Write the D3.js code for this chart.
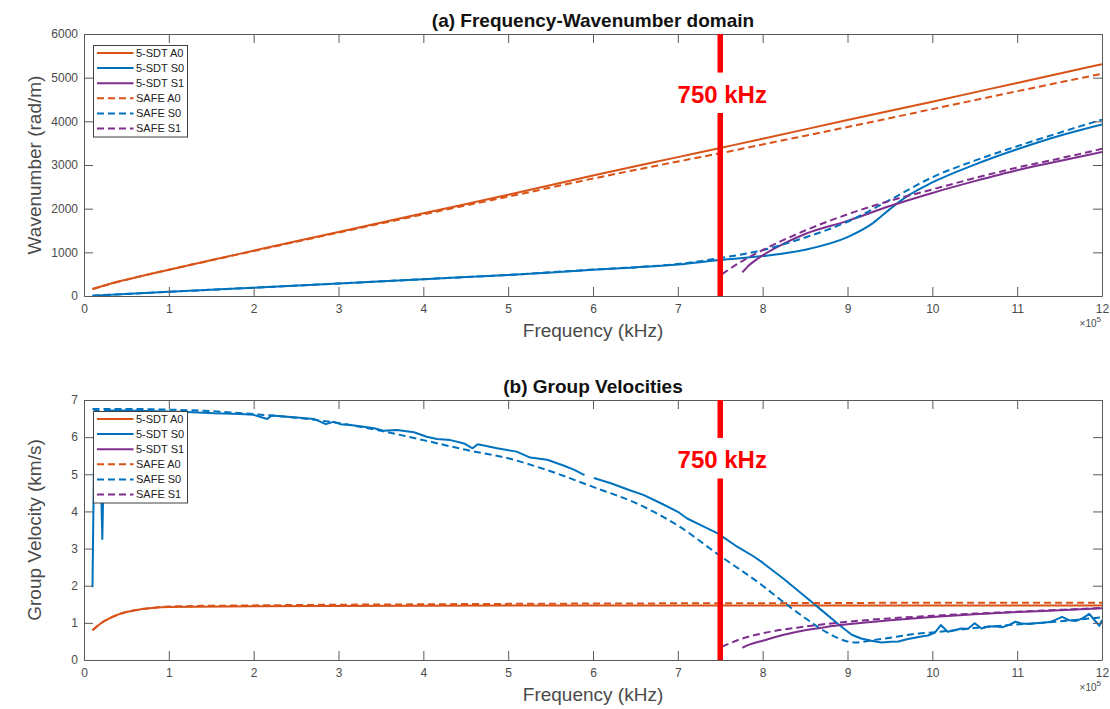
<!DOCTYPE html>
<html>
<head>
<meta charset="utf-8">
<script src="https://cdn.jsdelivr.net/npm/d3@7"></script>
<style>
  body { margin: 0; background: #fff; }
  svg { display: block; font-family: "Liberation Sans", Arial, sans-serif; }
</style>
</head>
<body>
<svg id="chart" width="1110" height="709"></svg>
<script>
// ---- data (frequency in units of 1e5 Hz) ----
var freqTicks = [0, 1, 2, 3, 4, 5, 6, 7, 8, 9, 10, 11, 12];
var kTicks = [0, 1000, 2000, 3000, 4000, 5000, 6000];
var vTicks = [0, 1, 2, 3, 4, 5, 6, 7];

var seriesNames = ["5-SDT A0", "5-SDT S0", "5-SDT S1", "SAFE A0", "SAFE S0", "SAFE S1"];
var seriesColors = ["#D95319", "#0072BD", "#7E2F8E", "#D95319", "#0072BD", "#7E2F8E"];
var seriesDashed = [false, false, false, true, true, true];

var markerFreq = 7.5;
var markerLabel = "750 kHz";

// (a) wavenumber (rad/m)
var kA0sdtF = [0.1, 0.3, 0.5, 1, 2, 3, 4, 5, 6, 7, 7.5, 8, 9, 10, 11, 12];
var kA0sdt  = [160, 275, 375, 603, 1038, 1466, 1893, 2320, 2760, 3180, 3390, 3600, 4030, 4450, 4880, 5310];
var kA0safeF = [0.1, 0.3, 0.5, 1, 2, 3, 4, 5, 6, 7, 7.5, 8, 9, 10, 11, 12];
var kA0safe  = [160, 272, 372, 600, 1030, 1452, 1868, 2275, 2690, 3080, 3270, 3470, 3870, 4280, 4690, 5090];

var kS0sdtF = [0.1, 1, 2, 3, 4, 5, 6, 6.5, 7, 7.5, 8, 8.5, 9, 9.3, 9.5, 9.7, 10, 10.5, 11, 11.5, 12];
var kS0sdt  = [8, 95, 190, 285, 385, 480, 600, 655, 720, 825, 915, 1060, 1350, 1670, 1990, 2280, 2600, 3010, 3360, 3670, 3930];
var kS0safeF = [0.1, 1, 2, 3, 4, 5, 6, 6.5, 7, 7.5, 8, 8.5, 9, 9.5, 10, 10.5, 11, 11.5, 12];
var kS0safe  = [8, 95, 190, 285, 385, 482, 605, 660, 732, 870, 1050, 1340, 1700, 2200, 2720, 3100, 3430, 3740, 4040];

var kS1sdtF = [7.76, 7.85, 8, 8.25, 8.5, 9, 9.5, 10, 10.5, 11, 11.5, 12];
var kS1sdt  = [540, 720, 930, 1200, 1420, 1720, 2060, 2360, 2630, 2880, 3090, 3300];
var kS1safeF = [7.52, 7.75, 8, 8.5, 9, 9.5, 10, 10.5, 11, 11.5, 12];
var kS1safe  = [500, 790, 1050, 1500, 1870, 2180, 2440, 2700, 2940, 3150, 3370];

// (b) group velocity (km/s)
var vA0sdtF = [0.1, 0.2, 0.3, 0.4, 0.5, 0.6, 0.8, 1, 2, 4, 6, 8, 10, 12];
var vA0sdt  = [0.8, 0.99, 1.12, 1.22, 1.29, 1.34, 1.4, 1.43, 1.45, 1.46, 1.47, 1.47, 1.47, 1.47];
var vA0safeF = [0.1, 0.2, 0.3, 0.4, 0.5, 0.6, 0.8, 1, 2, 4, 6, 8, 10, 12];
var vA0safe  = [0.8, 0.99, 1.12, 1.22, 1.29, 1.34, 1.4, 1.44, 1.47, 1.5, 1.52, 1.53, 1.54, 1.54];

var vS0sdtF = [0.1, 0.125, 0.18, 0.216, 0.245, 0.5, 1.0, 1.22, 1.53, 1.84, 2.0, 2.16, 2.21, 2.51, 2.71, 2.85, 2.94, 3.02,
  3.14, 3.3, 3.42, 3.53, 3.69, 3.89, 4.04, 4.16, 4.32, 4.48, 4.58, 4.64, 4.87, 5.1, 5.26, 5.46, 5.66, 5.78, 5.9, 5.95,
  6.01, 6.21, 6.41, 6.6, 6.8, 7.0, 7.11, 7.27, 7.47, 7.7, 7.9, 8.0, 8.25, 8.5, 8.69, 8.9, 9.05, 9.16, 9.28, 9.4, 9.51,
  9.6, 9.7, 9.87, 9.95, 10.03, 10.1, 10.18, 10.26, 10.34, 10.42, 10.5, 10.58, 10.66, 10.74, 10.82, 10.9, 10.98, 11.06,
  11.14, 11.22, 11.3, 11.38, 11.45, 11.53, 11.61, 11.69, 11.77, 11.85, 11.92, 11.97, 12];
var vS0sdt  = [1.96, 6.72, 6.7, 3.26, 6.72, 6.72, 6.69, 6.68, 6.64, 6.62, 6.6, 6.49, 6.58, 6.53, 6.49, 6.35, 6.41, 6.35,
  6.33, 6.28, 6.24, 6.17, 6.19, 6.13, 6.01, 5.95, 5.92, 5.83, 5.7, 5.81, 5.7, 5.61, 5.45, 5.39, 5.23, 5.12, 4.98, NaN,
  4.9, 4.76, 4.59, 4.44, 4.22, 3.99, 3.81, 3.63, 3.41, 3.05, 2.78, 2.62, 2.18, 1.71, 1.35, 0.95, 0.68, 0.58, 0.52, 0.47, 0.49,
  0.5, 0.56, 0.63, 0.66, 0.74, 0.94, 0.76, 0.8, 0.85, 0.84, 0.99, 0.85, 0.9, 0.91, 0.88, 0.94, 1.03, 0.98,
  0.97, 0.99, 1.0, 1.02, 1.08, 1.16, 1.07, 1.05, 1.12, 1.24, 1.05, 0.92, 1.08];
var vS0safeF = [0.1, 0.5, 1, 1.5, 2, 2.5, 3, 3.5, 4, 4.5, 5, 5.5, 6, 6.5, 7, 7.5, 8, 8.25, 8.5, 8.75, 9, 9.1, 9.31,
  9.5, 9.79, 10, 10.26, 10.5, 10.9, 11.45, 12];
var vS0safe  = [6.76, 6.76, 6.74, 6.7, 6.62, 6.52, 6.38, 6.17, 5.92, 5.66, 5.43, 5.08, 4.66, 4.23, 3.62, 2.8, 2.0, 1.55,
  1.13, 0.75, 0.5, 0.47, 0.54, 0.6, 0.7, 0.74, 0.8, 0.86, 0.94, 1.03, 1.15];

var vS1sdtF = [7.76, 7.85, 8, 8.25, 8.5, 8.75, 9, 9.5, 10, 10.5, 11, 11.5, 12];
var vS1sdt  = [0.33, 0.42, 0.52, 0.68, 0.8, 0.89, 0.96, 1.07, 1.16, 1.23, 1.29, 1.34, 1.39];
var vS1safeF = [7.52, 7.75, 8, 8.5, 9, 9.5, 10, 10.5, 11, 11.5, 12];
var vS1safe  = [0.36, 0.57, 0.72, 0.9, 1.03, 1.12, 1.19, 1.25, 1.3, 1.35, 1.4];

function zip(f, v) { return f.map(function(d, i) { return [d, v[i]]; }); }

var svg = d3.select("#chart");
var axisColor = "#5a5a5a", textColor = "#4a4a4a";

function drawPanel(o) {
  var x = d3.scaleLinear().domain([0, 12]).range([84, 1102]);
  var y = d3.scaleLinear().domain(o.yDomain).range([o.bottom, o.top]);
  var g = svg.append("g");

  g.append("clipPath").attr("id", o.id + "clip")
    .append("rect").attr("x", 84).attr("y", o.top).attr("width", 1018).attr("height", o.bottom - o.top);

  // curves
  var curves = g.append("g").attr("clip-path", "url(#" + o.id + "clip)");
  o.series.forEach(function(s, i) {
    var line = d3.line()
      .defined(function(d) { return !isNaN(d[1]); })
      .x(function(d) { return x(d[0]); })
      .y(function(d) { return y(d[1]); })
      .curve(o.linear[i] ? d3.curveLinear : d3.curveMonotoneX);
    curves.append("path")
      .datum(s)
      .attr("d", line)
      .attr("fill", "none")
      .attr("stroke", seriesColors[i])
      .attr("stroke-width", 2)
      .attr("stroke-linejoin", "round")
      .attr("stroke-dasharray", seriesDashed[i] ? "7,4" : null);
  });

  // axes (box with inward ticks)
  function style(a) {
    a.attr("color", axisColor).attr("font-family", null).attr("font-size", "12px");
    a.selectAll("text").attr("fill", textColor);
  }
  g.append("g").attr("transform", "translate(0," + o.bottom + ")")
    .call(d3.axisBottom(x).tickValues(freqTicks).tickSizeInner(-9).tickSizeOuter(0).tickPadding(8))
    .call(style);
  g.append("g").attr("transform", "translate(0," + o.top + ")")
    .call(d3.axisTop(x).tickValues(freqTicks).tickSizeInner(-9).tickSizeOuter(0).tickFormat(""))
    .call(style);
  g.append("g").attr("transform", "translate(84,0)")
    .call(d3.axisLeft(y).tickValues(o.yTicks).tickSizeInner(-9).tickSizeOuter(0).tickPadding(6).tickFormat(d3.format("d")))
    .call(style);
  g.append("g").attr("transform", "translate(1102,0)")
    .call(d3.axisRight(y).tickValues(o.yTicks).tickSizeInner(-9).tickSizeOuter(0).tickFormat(""))
    .call(style);

  // title and labels
  g.append("text").attr("x", 593).attr("y", o.top - 7.5).attr("text-anchor", "middle")
    .attr("font-size", "19px").attr("font-weight", "bold").attr("fill", "#111").text(o.title);
  g.append("text").attr("x", 593).attr("y", o.bottom + 41).attr("text-anchor", "middle")
    .attr("font-size", "19px").attr("fill", textColor).text("Frequency (kHz)");
  g.append("text").attr("transform", "translate(41," + ((o.top + o.bottom) / 2) + ") rotate(-90)")
    .attr("text-anchor", "middle").attr("font-size", "19px").attr("fill", textColor).text(o.yLabel);
  var ex = g.append("text").attr("x", 1101).attr("y", o.bottom + 31).attr("text-anchor", "end")
    .attr("fill", textColor).attr("font-size", "10px");
  ex.append("tspan").text("\u00d710");
  ex.append("tspan").attr("font-size", "8px").attr("dy", "-5").text("5");

  // red marker line with label gap
  var mx = x(markerFreq), ly = y(o.labelAt);
  g.append("line").attr("x1", mx).attr("x2", mx).attr("y1", o.top).attr("y2", ly - 30)
    .attr("stroke", "#ff0000").attr("stroke-width", 5.5);
  g.append("line").attr("x1", mx).attr("x2", mx).attr("y1", ly + 10.5).attr("y2", o.bottom)
    .attr("stroke", "#ff0000").attr("stroke-width", 5.5);
  g.append("text").attr("x", mx + 2).attr("y", ly).attr("text-anchor", "middle")
    .attr("font-size", "24px").attr("font-weight", "bold").attr("fill", "#ff0000").text(markerLabel);

  // legend
  var lg = g.append("g").attr("transform", "translate(93.5," + (o.top + 11.5) + ")");
  lg.append("rect").attr("width", 94).attr("height", 91.5)
    .attr("fill", "#fff").attr("stroke", "#404040").attr("stroke-width", 1);
  seriesNames.forEach(function(n, i) {
    var yy = 7.5 + i * 15.1;
    lg.append("line").attr("x1", 3.5).attr("x2", 40).attr("y1", yy).attr("y2", yy)
      .attr("stroke", seriesColors[i]).attr("stroke-width", 2)
      .attr("stroke-dasharray", seriesDashed[i] ? "7,4" : null);
    lg.append("text").attr("x", 42.5).attr("y", yy).attr("dy", "0.35em")
      .attr("font-size", "11px").attr("fill", "#222").text(n);
  });
}

drawPanel({
  id: "a", top: 34, bottom: 296,
  yDomain: [0, 6000], yTicks: kTicks,
  title: "(a) Frequency-Wavenumber domain",
  yLabel: "Wavenumber (rad/m)",
  labelAt: 4430,
  series: [zip(kA0sdtF, kA0sdt), zip(kS0sdtF, kS0sdt), zip(kS1sdtF, kS1sdt),
           zip(kA0safeF, kA0safe), zip(kS0safeF, kS0safe), zip(kS1safeF, kS1safe)],
  linear: [false, false, false, false, false, false]
});

drawPanel({
  id: "b", top: 400, bottom: 660,
  yDomain: [0, 7], yTicks: vTicks,
  title: "(b) Group Velocities",
  yLabel: "Group Velocity (km/s)",
  labelAt: 5.17,
  series: [zip(vA0sdtF, vA0sdt), zip(vS0sdtF, vS0sdt), zip(vS1sdtF, vS1sdt),
           zip(vA0safeF, vA0safe), zip(vS0safeF, vS0safe), zip(vS1safeF, vS1safe)],
  linear: [false, true, false, false, false, false]
});
</script>
</body>
</html>
